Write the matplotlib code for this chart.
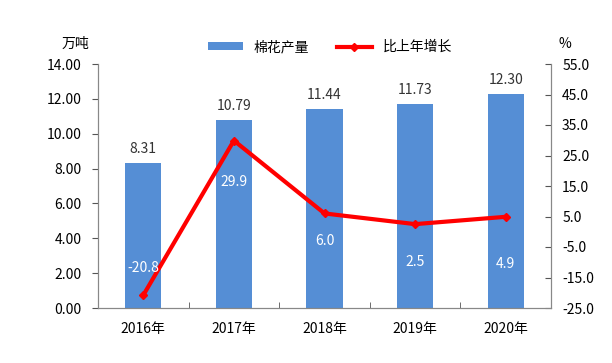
import numpy as np
import matplotlib.pyplot as plt

plt.rcParams['font.family'] = ['Noto Sans CJK SC', 'DejaVu Sans']

years = ["2016年", "2017年", "2018年", "2019年", "2020年"]
output = [8.31, 10.79, 11.44, 11.73, 12.30]
growth = [-20.8, 29.9, 6.0, 2.5, 4.9]
growth_label_offset = [27, -41, -28, -38, -47]

fig = plt.figure(figsize=(6.12, 3.63), dpi=100)
ax = fig.add_axes([98/612, 1-308/363, (551-98)/612, (308-64)/363])
ax2 = ax.twinx()

x = np.arange(len(years))
bars = ax.bar(x, output, width=0.4, color="#558ED5", label="棉花产量", zorder=2)
line, = ax2.plot(x, growth, color="#FF0000", lw=3, marker="D", ms=4,
                 label="比上年增长", zorder=3)

for xi, v in zip(x, output):
    ax.annotate(f"{v:.2f}", (xi, v), xytext=(0, 5), textcoords="offset points",
                ha="center", va="bottom", fontsize=10, color="#333333")
for xi, v, off in zip(x, growth, growth_label_offset):
    ax2.annotate(f"{v:.1f}", (xi, v), xytext=(0, off * 0.72), textcoords="offset points",
                 ha="center", va="center", fontsize=10, color="white", zorder=4)

ax.set_xlim(-0.5, 4.5)
ax.set_ylim(0, 14)
ax.set_yticks(np.arange(0, 14.01, 2))
ax.set_yticklabels([f"{t:.2f}" for t in np.arange(0, 14.01, 2)])
ax2.set_ylim(-25, 55)
ax2.set_yticks(np.arange(-25, 55.1, 10))
ax2.set_yticklabels([f"{t:.1f}" for t in np.arange(-25, 55.1, 10)])

ax.set_xticks(x)
ax.set_xticklabels(years)
ax.set_xticks(np.arange(0.5, 4, 1), minor=True)
ax.tick_params(axis="x", which="major", length=0, pad=10, labelsize=10)
ax.tick_params(axis="x", which="minor", length=4, direction="in", color="#555555")
ax.tick_params(axis="y", length=4, direction="out", color="#555555", labelsize=10, pad=8)
ax2.tick_params(axis="y", length=4, direction="in", color="#555555", labelsize=10, pad=8)

for a in (ax, ax2):
    a.spines["top"].set_visible(False)
    for s in ("left", "right", "bottom"):
        a.spines[s].set_color("#888888")

fig.text(75/612, 1-44/363, "万吨", ha="center", va="center", fontsize=10)
fig.text(565/612, 1-44/363, "%", ha="center", va="center", fontsize=10)

fig.legend(handles=[bars, line], loc="center", bbox_to_anchor=(330/612, 1-47/363),
           ncol=2, frameon=False, fontsize=10, handlelength=2.5, handleheight=0.5,
           columnspacing=2)

fig.savefig("out.png", dpi=100)
